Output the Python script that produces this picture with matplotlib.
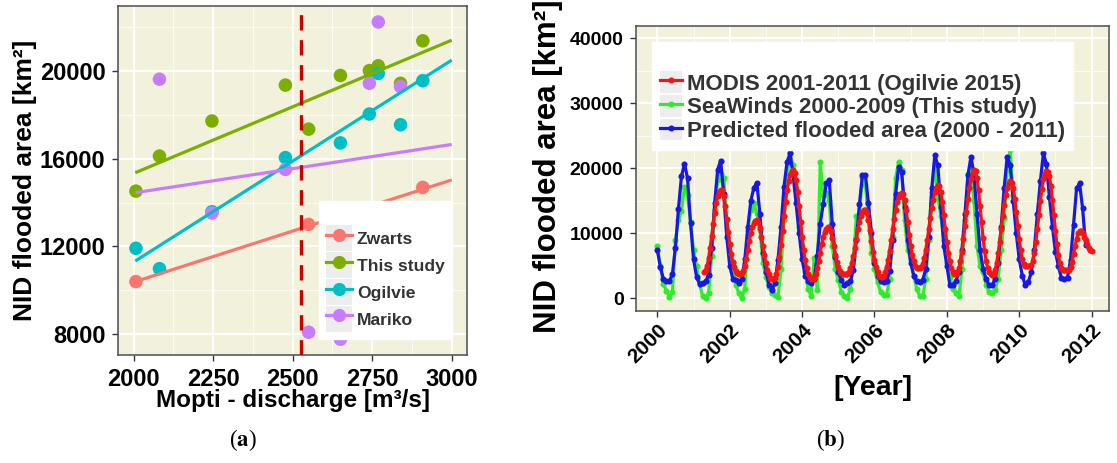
import numpy as np
import matplotlib
matplotlib.use("Agg")
import matplotlib.pyplot as plt
from matplotlib.lines import Line2D
from matplotlib.patches import Rectangle
from matplotlib.legend_handler import HandlerTuple

plt.rcParams['font.family'] = ['Liberation Sans', 'DejaVu Sans']
plt.rcParams['font.weight'] = 'bold'
plt.rcParams['mathtext.fontset'] = 'stix'

# ---------------- (a) flooded area vs. Mopti discharge ----------------
zwarts_q = [2007, 2550, 2909]
zwarts_area = [10390, 13000, 14690]
study_q = [2007, 2081, 2246, 2477, 2550, 2650, 2741, 2769, 2839, 2909]
study_area = [14520, 16120, 17720, 19360, 17350, 19800, 20020, 20240, 19440, 21380]
ogilvie_q = [2007, 2081, 2246, 2477, 2650, 2741, 2769, 2839, 2909]
ogilvie_area = [11910, 10980, 13580, 16050, 16720, 18040, 19890, 17550, 19560]
mariko_q = [2081, 2246, 2477, 2550, 2650, 2741, 2769, 2839]
mariko_area = [19630, 13520, 15510, 8080, 7760, 19440, 22240, 19290]

# linear fits, evaluated at the ends of the discharge range
fit_q = [2005, 3000]
zwarts_fit = [10390, 15030]
study_fit = [15360, 21410]
ogilvie_fit = [11330, 20500]
mariko_fit = [14450, 16650]

threshold_q = 2527

series_names = ['Zwarts', 'This study', 'Ogilvie', 'Mariko']
series_colors = ['#F8766D', '#7CAE00', '#00BFC4', '#C77CFF']

# ---------------- (b) monthly / half-monthly flooded area time series ----------------
predicted_start = 2000.0          # monthly, Jan 2000 onwards
predicted_area = [
    7400, 4800, 3000, 2600, 2600, 3800, 7800, 13800, 18800, 20700, 18500, 11600,
    6000, 3300, 2200, 2300, 2600, 3600, 7800, 14600, 19800, 21200, 16000, 9500,
    5000, 3000, 2800, 2400, 3000, 6000, 11000, 15000, 17000, 17800, 13000, 7000,
    4100, 2100, 1300, 2300, 5900, 11000, 17200, 21000, 22300, 19000, 14600, 10000,
    6000, 3500, 2600, 2300, 3000, 6500, 11500, 14500, 17700, 18200, 11500, 6400,
    4100, 2800, 2000, 2300, 2600, 4400, 9000, 14500, 19000, 19000, 14600, 10000,
    5500, 3500, 2600, 2500, 2700, 4200, 9000, 16000, 20200, 19500, 14000, 9000,
    5500, 3500, 2600, 2500, 2800, 4500, 9500, 17000, 22000, 20500, 14000, 8000,
    5000, 2000, 2100, 2600, 4000, 7500, 13000, 19000, 21800, 19000, 13000, 7500,
    4500, 3000, 2000, 2000, 3000, 5500, 11000, 17000, 21800, 20500, 15000, 10000,
    6000, 3500, 2000, 2500, 4000, 7500, 13000, 18000, 22300, 20700, 15600, 11000,
    7100, 4900, 3100, 3000, 3200, 5900, 11300, 16900, 17700, 13900, 8200,
]

seawinds_start = 2000.0           # monthly, Jan 2000 onwards
seawinds_area = [
    8000, 5000, 2200, 1200, 200, 1000, 9000, 12000, 13500, 17200, 15900, 11800,
    7500, 4900, 2300, 300, 0, 800, 6500, 13600, 18200, 19200, 18500, 12000,
    8200, 5400, 2100, 800, 0, 1500, 10500, 13600, 14600, 13100, 10500, 5500,
    3300, 1800, 800, 500, 200, 4500, 12000, 18700, 22300, 20500, 17000, 11000,
    8000, 4000, 1500, 300, 6200, 1300, 21000, 15900, 16200, 15000, 8000, 4500,
    2800, 1000, 300, 0, 1500, 6000, 12600, 12800, 18700, 17500, 12000, 7000,
    4500, 2500, 1000, 500, 500, 3000, 9500, 18500, 21000, 19700, 12000, 7500,
    6000, 3500, 1500, 300, 300, 3000, 9000, 16400, 20500, 15600, 12700, 9000,
    5500, 3300, 1500, 800, 300, 4500, 12000, 19200, 20000, 15000, 8000, 5000,
    4000, 2000, 1000, 800, 1300, 3000, 7500, 12300, 19700, 22800, 15900,
]

modis_start = 2001 + 7 / 24       # half-monthly, mid-April 2001 onwards
modis_area = [
    4100, 4300, 5000, 6200, 7800, 9600, 11500, 13200, 14600, 15700, 16400, 16700,
    16600, 15800, 14200, 12200, 10200,
    8300, 6800, 5600, 4800, 4200, 3900, 3800, 3800, 3900, 4200, 4900, 6000,
    7400, 8800, 10000, 11000, 11600, 11900, 12000, 11700, 10800, 9500, 8000, 6600,
    5400, 4400, 3700, 3200, 3000, 3000, 3200, 3800, 4800, 6300, 8200, 10400,
    12700, 14800, 16600, 18000, 19000, 19600, 19700, 19300, 18200, 16400, 14200, 11800,
    9500, 7500, 5900, 4700, 3800, 3300, 3000, 3000, 3200, 3700, 4600, 5700,
    7000, 8300, 9400, 10200, 10700, 10900, 10800, 10300, 9300, 8000, 6700, 5600,
    4800, 4200, 3900, 3700, 3700, 3700, 3800, 4100, 4600, 5400, 6500, 7800,
    9200, 10600, 11800, 12700, 13300, 13600, 13600, 13100, 12000, 10500, 8800, 7200,
    5900, 4800, 4000, 3500, 3300, 3300, 3500, 4000, 4800, 5900, 7300, 8900,
    10600, 12200, 13600, 14800, 15600, 16100, 16200, 16000, 15100, 13600, 11800, 9800,
    8100, 6700, 5700, 5000, 4700, 4600, 4600, 4800, 5300, 6200, 7500, 9000,
    10700, 12400, 13900, 15200, 16300, 17000, 17400, 17300, 16400, 14800, 12800, 10600,
    8600, 7000, 5700, 4700, 4100, 3800, 3800, 4000, 4600, 5700, 7200, 9100,
    11200, 13300, 15300, 17000, 18400, 19300, 19800, 19600, 18500, 16600, 14200, 11700,
    9300, 7300, 5800, 4700, 4000, 3700, 3600, 3800, 4400, 5400, 6900, 8700,
    10700, 12600, 14400, 15900, 17000, 17700, 18000, 17800, 16900, 15300, 13300, 11100,
    9100, 7400, 6100, 5300, 5000, 4900, 4900, 4900, 5100, 5700, 6900, 8600,
    10600, 12800, 14900, 16800, 18300, 19200, 19600, 19500, 18800, 17300, 15200, 12800,
    10400, 8300, 6600, 5400, 4700, 4400, 4300, 4300, 4300, 4400, 4800, 5600,
    6800, 8000, 9200, 10000, 10300, 10300, 10000, 9500, 8900, 8300, 7800, 7500,
    7300,
]

ts_names = ['MODIS 2001-2011 (Ogilvie 2015)', 'SeaWinds 2000-2009 (This study)',
            'Predicted flooded area (2000 - 2011)']
ts_colors = ['#F21616', '#2EEB2E', '#1818E4']

PANEL_BG = '#F2F2DC'
FIG_W, FIG_H = 1117, 463


def style_panel(ax):
    ax.set_facecolor(PANEL_BG)
    for s in ax.spines.values():
        s.set_color('#4D4D4D')
        s.set_linewidth(1.1)
    ax.grid(which='major', color='white', lw=1.3)
    ax.grid(which='minor', color='white', lw=0.55)
    ax.set_axisbelow(True)
    ax.tick_params(which='major', length=4, width=1.0, color='#333333',
                   labelcolor='black')
    ax.tick_params(which='minor', length=0)


def key_handles(colors, lw, ms):
    return [(Rectangle((0, 0), 1, 1, facecolor='#EDEDED', edgecolor='none'),
             Line2D([], [], color=c, lw=lw, marker='o', markersize=ms,
                    markeredgewidth=0)) for c in colors]


fig = plt.figure(figsize=(FIG_W / 100, FIG_H / 100), dpi=100)
fig.patch.set_facecolor('white')

# ---------------- panel (a) ----------------
axa = fig.add_axes([118 / FIG_W, 1 - 355 / FIG_H, 349 / FIG_W, 349 / FIG_H])
style_panel(axa)
groups = [(zwarts_q, zwarts_area, zwarts_fit),
          (study_q, study_area, study_fit),
          (ogilvie_q, ogilvie_area, ogilvie_fit),
          (mariko_q, mariko_area, mariko_fit)]
for (q, area, fit), color in zip(groups, series_colors):
    axa.scatter(q, area, s=95, color=color, edgecolors='none', zorder=3)
    axa.plot(fit_q, fit, color=color, lw=2.3, zorder=3.5, solid_capstyle='butt')
axa.axvline(threshold_q, color='#C80000', lw=2.4, ls=(0, (4.6, 2.9)), zorder=4)

axa.set_xlim(1950.6, 3048)
axa.set_ylim(7040, 22970)
axa.set_xticks([2000, 2250, 2500, 2750, 3000])
axa.set_xticks([2125, 2375, 2625, 2875], minor=True)
axa.set_yticks([8000, 12000, 16000, 20000])
axa.set_yticks([10000, 14000, 18000, 22000], minor=True)
axa.tick_params(axis='both', which='major', labelsize=17, pad=5)
for lab in axa.get_xticklabels() + axa.get_yticklabels():
    lab.set_fontweight('bold')

axa.set_xlabel('Mopti - discharge [m³/s]', fontsize=17.5, fontweight='bold')
axa.set_ylabel('NID flooded area [km²]', fontsize=19, fontweight='bold')
axa.xaxis.label.set_va('center')
axa.yaxis.label.set_va('center')
axa.xaxis.set_label_coords(0.5, 1 - (400 - 6) / 349)
axa.yaxis.set_label_coords((25 - 118) / 349, 0.5)

leg_a = axa.legend(key_handles(series_colors, 2.3, 9.5), series_names,
                   handler_map={tuple: HandlerTuple(ndivide=1, pad=0)},
                   loc='lower right', bbox_to_anchor=(0.957, 0.046),
                   borderaxespad=0, frameon=True, fancybox=False, framealpha=1,
                   facecolor='white', edgecolor='white',
                   prop={'weight': 'bold', 'size': 12.6},
                   handlelength=1.43, handleheight=1.84, handletextpad=0.3,
                   labelspacing=0.1, borderpad=0.42, title=' ',
                   title_fontsize=11.7)
for t in leg_a.get_texts():
    t.set_color('#333333')
leg_a.set_zorder(5)

# ---------------- panel (b) ----------------
axb = fig.add_axes([636 / FIG_W, 1 - 311 / FIG_H, 473 / FIG_W, 285 / FIG_H])
style_panel(axb)
pred_x = predicted_start + np.arange(len(predicted_area)) / 12
sea_x = seawinds_start + np.arange(len(seawinds_area)) / 12
modis_x = modis_start + np.arange(len(modis_area)) / 24

axb.plot(sea_x, seawinds_area, color=ts_colors[1], lw=2.3, marker='o',
         markersize=4.4, markeredgewidth=0, zorder=3)
axb.plot(pred_x, predicted_area, color=ts_colors[2], lw=2.3, marker='o',
         markersize=4.4, markeredgewidth=0, zorder=3.2)
axb.plot(modis_x, modis_area, color=ts_colors[0], lw=2.3, marker='o',
         markersize=4.4, markeredgewidth=0, zorder=3.4)

axb.set_xlim(1999.41, 2012.48)
axb.set_ylim(-1950, 41900)
axb.set_xticks(np.arange(2000, 2013, 2))
axb.set_xticks(np.arange(2001, 2013, 2), minor=True)
axb.set_yticks(np.arange(0, 40001, 10000))
axb.set_yticks(np.arange(5000, 40000, 10000), minor=True)
axb.tick_params(axis='y', which='major', labelsize=14, pad=5)
axb.tick_params(axis='x', which='major', labelsize=15, pad=3)
for lab in axb.get_yticklabels():
    lab.set_fontweight('bold')
for lab in axb.get_xticklabels():
    lab.set_fontweight('bold')
    lab.set_rotation(45)
    lab.set_ha('right')
    lab.set_va('top')
    lab.set_rotation_mode('anchor')

axb.set_xlabel('[Year]', fontsize=20.5, fontweight='bold')
axb.set_ylabel('NID flooded area [km²]', fontsize=22.5, fontweight='bold')
axb.xaxis.label.set_va('center')
axb.yaxis.label.set_va('center')
axb.xaxis.set_label_coords(0.5, 1 - (388 - 26) / 285)
axb.yaxis.set_label_coords((548 - 636) / 473, 1 - (166 - 26) / 285)

leg_b = axb.legend(key_handles([ts_colors[0], ts_colors[1], ts_colors[2]], 2.3, 4.4),
                   ts_names, handler_map={tuple: HandlerTuple(ndivide=1, pad=0)},
                   loc='upper left', bbox_to_anchor=((652 - 636) / 473, 1 - (42 - 26) / 285),
                   borderaxespad=0, frameon=True, fancybox=False, framealpha=1,
                   facecolor='white', edgecolor='white',
                   prop={'weight': 'bold', 'size': 16},
                   handlelength=0.98, handleheight=1.12, handletextpad=0.26,
                   labelspacing=0.02, borderpad=0.35, title=' ',
                   title_fontsize=15.5)
for t in leg_b.get_texts():
    t.set_color('#333333')
leg_b.set_zorder(5)

# ---------------- panel captions ----------------
for label, cx in (('a', 243), ('b', 830)):
    fig.text(cx / FIG_W, 1 - 440 / FIG_H, '(' + r'$\mathbf{' + label + '}$' + ')',
             ha='center', va='center', fontsize=16.5, fontweight='normal',
             family='Liberation Serif', color='black')

fig.savefig('out.png', dpi=100, facecolor='white')
